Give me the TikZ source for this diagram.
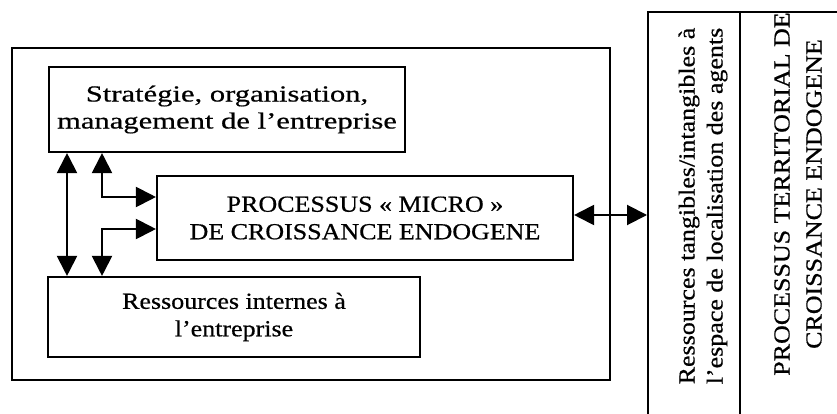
\documentclass[tikz,border=0pt]{standalone}
\usepackage{fontspec}
\setmainfont{Liberation Serif}[FakeStretch=1.13, FakeBold=0.6]
\newfontfamily\largeserif{Liberation Serif}[FakeStretch=1.33, FakeBold=0.6]
\usetikzlibrary{arrows.meta}

\tikzset{
  cadre/.style={draw, line width=2.2pt, inner sep=0pt},
  boite/.style={draw, line width=2.1pt, inner sep=0pt, align=center,
    font=\fontsize{23}{27.5}\selectfont},
  vertical/.style={rotate=90, align=center, inner sep=0pt,
    font=\fontsize{23}{28}\selectfont},
  pointe/.tip={Triangle[length=20pt,width=20pt]},
  fleche/.style={line width=2pt, pointe-pointe},
}

\begin{document}
\begin{tikzpicture}[x=1pt, y=-1pt]
  \useasboundingbox (0,0) rectangle (837,414);
  \clip (0,0) rectangle (837,414);

  % firm: outer frame and its three blocks
  \node[cadre, minimum width=598pt, minimum height=332pt] (firme) at (311,214) {};
  \node[boite, minimum width=356pt, minimum height=85pt,
    font=\largeserif\fontsize{23}{27}\selectfont] (strat) at (227,109.5)
    {Stratégie, organisation,\\management de l’entreprise};
  \node[boite, minimum width=416pt, minimum height=84pt] (proc) at (365,218)
    {PROCESSUS «~MICRO~»\\DE CROISSANCE ENDOGENE};
  \node[boite, minimum width=372pt, minimum height=80pt] (res) at (234,317)
    {Ressources internes à\\l’entreprise};

  % territory: open frame running off the page, split in two columns
  \node[cadre, minimum width=200pt, minimum height=420pt, anchor=north west]
    (terr) at (647,11) {};
  \coordinate (sep) at (740,11);
  \draw[line width=2.2pt] (sep) -- (sep |- terr.south);
  \node[vertical] (ress) at (703,206)
    {Ressources tangibles/intangibles à\\l’espace de localisation des agents};
  \node[vertical, font=\fontsize{23}{32}\selectfont] (pterr) at (798,194)
    {PROCESSUS TERRITORIAL DE\\CROISSANCE ENDOGENE};

  % guide positions for the connectors
  \coordinate (v1) at (67,0);
  \coordinate (v2) at (102,0);
  \coordinate (h1) at (0,197);
  \coordinate (h2) at (0,229);
  \coordinate (h3) at (0,215);

  % connectors
  \draw[fleche] (strat.south -| v1) -- (res.north -| v1);
  \draw[fleche] (strat.south -| v2) |- (proc.west |- h1);
  \draw[fleche] (res.north -| v2) |- (proc.west |- h2);
  \draw[fleche] (proc.east |- h3) -- (terr.west |- h3);
\end{tikzpicture}
\end{document}
